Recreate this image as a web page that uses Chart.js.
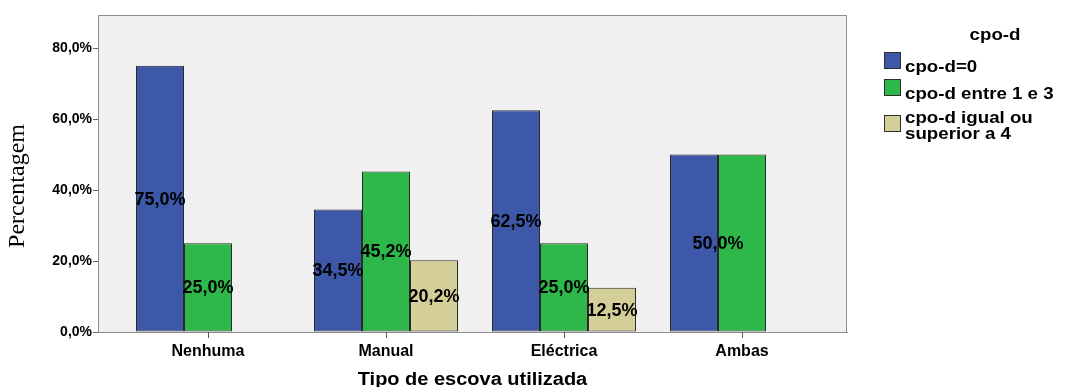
<!DOCTYPE html>
<html>
<head>
<meta charset="utf-8">
<title>Tipo de escova utilizada</title>
<script src="https://cdn.jsdelivr.net/npm/chart.js@4/dist/chart.umd.min.js"></script>
<style>
  html, body { margin: 0; padding: 0; background: #ffffff; }
  #wrap { width: 1066px; height: 387px; }
</style>
</head>
<body>
<div id="wrap"><canvas id="c" width="1066" height="387"></canvas></div>
<script>
// Categories and series (percentages)
const categories = ['Nenhuma', 'Manual', 'Eléctrica', 'Ambas'];
const seriesNames = ['cpo-d=0', 'cpo-d entre 1 e 3', 'cpo-d igual ou superior a 4'];
const cpoZero = [75.0, 34.5, 62.5, 50.0];
const cpoOneToThree = [25.0, 45.2, 25.0, 50.0];
const cpoFourPlus = [0.0, 20.2, 12.5, 0.0];
const yTickValues = [0, 20, 40, 60, 80];

const seriesColors = ['#3d57a9', '#2eb84a', '#d4cf98'];
const SANS = "'Liberation Sans', Arial, sans-serif";
const SERIF = "'Liberation Serif', 'Times New Roman', serif";

const fmtPct = v => v.toFixed(1).replace('.', ',') + '%';

function toPoints(arr) { return arr.map((v, i) => ({ x: i, y: v })); }

// x axis: 178 px per category, groups of three 48 px bars
const X_MIN = -110 / 178;
const X_MAX = 3 + 105 / 178;
const GROUP_FRACTION = 144 / 178;

const datasets = [cpoZero, cpoOneToThree, cpoFourPlus].map((arr, k) => ({
  label: seriesNames[k],
  data: toPoints(arr),
  backgroundColor: seriesColors[k],
  borderColor: '#2a2a2a',
  borderWidth: 1,
  borderSkipped: false,
  categoryPercentage: GROUP_FRACTION,
  barPercentage: 1.0
}));

// Plot frame: grey panel behind the bars, thin border around it, category tick marks
const framePlugin = {
  id: 'frame',
  beforeDatasetsDraw(chart) {
    const { ctx, chartArea: a } = chart;
    ctx.save();
    ctx.fillStyle = '#f0f0f0';
    ctx.fillRect(a.left, a.top, a.right - a.left, a.bottom - a.top);
    ctx.restore();
  },
  afterDatasetsDraw(chart) {
    const { ctx, chartArea: a } = chart;
    ctx.save();
    ctx.strokeStyle = '#8c8c8c';
    ctx.lineWidth = 1;
    ctx.beginPath();
    ctx.moveTo(a.left + 0.5, a.bottom + 0.5);
    ctx.lineTo(a.left + 0.5, a.top + 0.5);
    ctx.lineTo(a.right - 0.5, a.top + 0.5);
    ctx.lineTo(a.right - 0.5, a.bottom + 0.5);
    ctx.stroke();
    const xs = chart.scales.x;
    ctx.strokeStyle = '#555555';
    ctx.beginPath();
    categories.forEach((c, i) => {
      const px = Math.round(xs.getPixelForValue(i)) + 0.5;
      ctx.moveTo(px, a.bottom);
      ctx.lineTo(px, a.bottom + 6);
    });
    ctx.stroke();
    ctx.restore();
  }
};

// Value labels centred inside each bar; identical overlapping labels in a group are merged
const valueLabelPlugin = {
  id: 'valueLabels',
  afterDatasetsDraw(chart) {
    const { ctx } = chart;
    ctx.save();
    ctx.font = 'bold 18px ' + SANS;
    ctx.fillStyle = '#000000';
    ctx.textAlign = 'center';
    ctx.textBaseline = 'middle';
    categories.forEach((cat, i) => {
      const labels = [];
      chart.data.datasets.forEach((ds, d) => {
        const v = ds.data[i].y;
        if (!v) return;
        const bar = chart.getDatasetMeta(d).data[i];
        const text = fmtPct(v);
        const w = ctx.measureText(text).width;
        const item = { text, x: bar.x, y: (bar.y + bar.base) / 2 + 1, w };
        const prev = labels[labels.length - 1];
        if (prev && prev.text === text && Math.abs(prev.x - item.x) < (prev.w + w) / 2) {
          prev.x = (prev.x + item.x) / 2;
          prev.y = (prev.y + item.y) / 2;
        } else {
          labels.push(item);
        }
      });
      labels.forEach(l => ctx.fillText(l.text, l.x, l.y));
    });
    ctx.restore();
  }
};

// Axis titles and the legend panel on the right
function scaledText(ctx, text, x, y, sx, align) {
  ctx.save();
  ctx.translate(x, y);
  ctx.scale(sx, 1);
  ctx.textAlign = align;
  ctx.fillText(text, 0, 0);
  ctx.restore();
}

function wrapWords(ctx, text, maxW) {
  const words = text.split(' ');
  const lines = [];
  let cur = '';
  words.forEach(w => {
    const t = cur ? cur + ' ' + w : w;
    if (ctx.measureText(t).width > maxW && cur) { lines.push(cur); cur = w; }
    else cur = t;
  });
  if (cur) lines.push(cur);
  return lines;
}

const annotationPlugin = {
  id: 'titlesLegend',
  afterDraw(chart) {
    const { ctx, chartArea: a } = chart;
    ctx.save();
    ctx.fillStyle = '#000000';
    ctx.textBaseline = 'alphabetic';

    // x axis title
    ctx.font = 'bold 18px ' + SANS;
    scaledText(ctx, 'Tipo de escova utilizada', (a.left + a.right) / 2, 384.5, 1.11, 'center');

    // y axis title
    ctx.save();
    ctx.font = '24px ' + SERIF;
    ctx.translate(24, 186);
    ctx.rotate(-Math.PI / 2);
    ctx.textAlign = 'center';
    ctx.fillText('Percentagem', 0, 0);
    ctx.restore();

    // legend
    const sx = 1.1;
    ctx.font = 'bold 17px ' + SANS;
    scaledText(ctx, 'cpo-d', 995, 40, sx, 'center');

    const boxX = 884, textX = 905, box = 17;
    const lineH = 16;
    let y = 52;
    chart.data.datasets.forEach(ds => {
      const lines = wrapWords(ctx, ds.label, 157 / sx);
      const multi = lines.length > 1;
      const boxY = multi ? y + 9 : y;
      ctx.fillStyle = ds.backgroundColor;
      ctx.fillRect(boxX, boxY, box, box);
      ctx.strokeStyle = '#2e2e2e';
      ctx.lineWidth = 1;
      ctx.strokeRect(boxX + 0.5, boxY + 0.5, box - 1, box - 1);
      ctx.fillStyle = '#000000';
      const first = multi ? y + 16.5 : y + 20;
      lines.forEach((ln, j) => scaledText(ctx, ln, textX, first + j * lineH, sx, 'left'));
      y += multi ? 27 + lineH : 27;
    });
    ctx.restore();
  }
};

new Chart(document.getElementById('c'), {
  type: 'bar',
  data: { datasets },
  options: {
    responsive: false,
    animation: false,
    devicePixelRatio: 1,
    layout: { padding: { left: 0, top: 15, right: 219, bottom: 0 } },
    plugins: { legend: { display: false }, tooltip: { enabled: false } },
    scales: {
      x: {
        type: 'linear',
        min: X_MIN,
        max: X_MAX,
        offset: false,
        afterBuildTicks: s => { s.ticks = categories.map((c, i) => ({ value: i })); },
        afterFit: s => { s.height = 55; },
        ticks: {
          autoSkip: false,
          maxRotation: 0,
          padding: 5,
          color: '#000000',
          font: { family: SANS, size: 16, weight: 'bold' },
          callback: v => categories[v]
        },
        grid: { display: false, tickLength: 5 },
        border: { display: true, color: '#8c8c8c' }
      },
      y: {
        min: 0,
        max: 89.3,
        afterBuildTicks: s => { s.ticks = yTickValues.map(v => ({ value: v })); },
        afterFit: s => { s.width = 98; },
        ticks: {
          padding: 1,
          color: '#000000',
          font: { family: SANS, size: 14, weight: 'bold' },
          callback: v => fmtPct(v)
        },
        grid: { drawOnChartArea: false, drawTicks: true, tickLength: 5, color: '#666666' },
        border: { display: false }
      }
    }
  },
  plugins: [framePlugin, valueLabelPlugin, annotationPlugin]
});
</script>
</body>
</html>
